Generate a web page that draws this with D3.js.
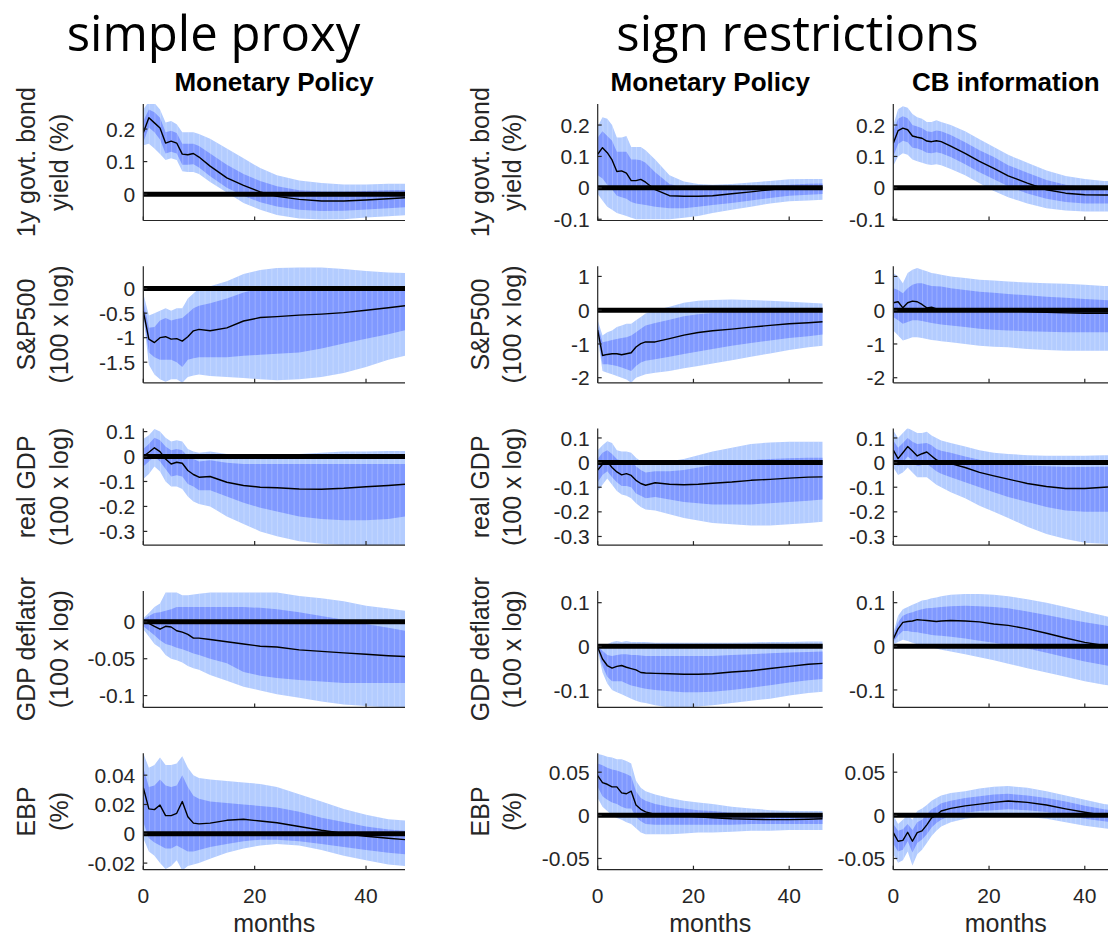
<!DOCTYPE html>
<html>
<head>
<meta charset="utf-8">
<script src="https://cdn.jsdelivr.net/npm/d3@7/dist/d3.min.js"></script>
<style>
  html, body { margin: 0; padding: 0; background: #ffffff; }
  svg { display: block; }
</style>
</head>
<body>
<svg id="chart" width="1108" height="940"></svg>
<script>
// ---------------- DATA ----------------
const months = [0,1,2,3,4,5,6,7,8,9,10,12,15,18,21,24,28,32,36,40,44,47];

const groupTitles = ["simple proxy", "sign restrictions"];
const shockTitles = ["Monetary Policy", "Monetary Policy", "CB information"];
const varLabels = [
  ["1y govt. bond", "yield (%)"],
  ["S&P500", "(100 x log)"],
  ["real GDP", "(100 x log)"],
  ["GDP deflator", "(100 x log)"],
  ["EBP", "(%)"]
];
const xTicks = [0, 20, 40];
const xLabel = "months";
const yTicksProxy = [[0, 0.1, 0.2], [-1.5, -1, -0.5, 0], [-0.3, -0.2, -0.1, 0, 0.1], [-0.1, -0.05, 0], [-0.02, 0, 0.02, 0.04]];
const yTicksSign  = [[-0.1, 0, 0.1, 0.2], [-2, -1, 0, 1], [-0.3, -0.2, -0.1, 0, 0.1], [-0.1, 0, 0.1], [-0.05, 0, 0.05]];
const yLimProxy = [[-0.081, 0.277], [-1.92, 0.455], [-0.355, 0.112], [-0.116, 0.042], [-0.0245, 0.055]];
const yLimSign  = [[-0.104, 0.267], [-2.15, 1.3], [-0.335, 0.138], [-0.14, 0.127], [-0.063, 0.072]];

// simple proxy, monetary policy
const spYieldMed  = [0.189,0.235,0.219,0.203,0.157,0.163,0.157,0.123,0.121,0.125,0.114,0.086,0.050,0.027,0.007,-0.007,-0.016,-0.021,-0.021,-0.018,-0.014,-0.011];
const spYieldHi90 = [0.26,0.285,0.28,0.26,0.22,0.225,0.215,0.19,0.19,0.19,0.185,0.17,0.14,0.11,0.08,0.058,0.042,0.034,0.03,0.03,0.032,0.032];
const spYieldLo90 = [0.15,0.155,0.14,0.123,0.105,0.11,0.105,0.07,0.068,0.068,0.062,0.037,0.005,-0.027,-0.048,-0.064,-0.075,-0.078,-0.077,-0.072,-0.068,-0.065];
const spYieldHi68 = [0.225,0.26,0.252,0.235,0.19,0.195,0.188,0.155,0.155,0.155,0.148,0.125,0.09,0.062,0.04,0.024,0.012,0.008,0.008,0.01,0.012,0.013];
const spYieldLo68 = [0.16,0.205,0.19,0.168,0.125,0.13,0.125,0.09,0.09,0.092,0.082,0.055,0.02,-0.005,-0.025,-0.038,-0.048,-0.052,-0.051,-0.047,-0.043,-0.04];

const spStockMed  = [-0.46,-1.03,-1.10,-1.00,-0.98,-1.03,-1.02,-1.07,-0.98,-0.86,-0.83,-0.86,-0.80,-0.66,-0.59,-0.57,-0.54,-0.52,-0.49,-0.44,-0.39,-0.35];
const spStockHi90 = [-0.1,-0.55,-0.5,-0.45,-0.4,-0.45,-0.4,-0.4,-0.2,-0.1,0.0,0.05,0.15,0.3,0.38,0.42,0.43,0.43,0.4,0.36,0.33,0.32];
const spStockLo90 = [-0.55,-1.55,-1.75,-1.85,-1.9,-1.85,-1.85,-1.92,-1.8,-1.77,-1.75,-1.78,-1.8,-1.82,-1.85,-1.87,-1.85,-1.8,-1.72,-1.6,-1.45,-1.37];
const spStockHi68 = [-0.25,-0.8,-0.78,-0.65,-0.6,-0.65,-0.62,-0.6,-0.5,-0.4,-0.35,-0.3,-0.2,-0.08,0.0,0.02,0.03,0.03,0.02,0.0,-0.03,-0.05];
const spStockLo68 = [-0.5,-1.3,-1.4,-1.45,-1.45,-1.45,-1.5,-1.6,-1.45,-1.42,-1.4,-1.4,-1.4,-1.37,-1.35,-1.33,-1.3,-1.22,-1.12,-1.02,-0.93,-0.85];

const spGdpMed  = [0.0,0.017,0.035,0.02,-0.01,-0.03,-0.023,-0.027,-0.056,-0.072,-0.083,-0.08,-0.103,-0.116,-0.123,-0.125,-0.13,-0.131,-0.127,-0.121,-0.116,-0.111];
const spGdpHi90 = [0.07,0.085,0.11,0.1,0.075,0.06,0.065,0.06,0.03,0.02,0.015,0.02,0.01,0.005,0.0,0.005,0.01,0.015,0.02,0.02,0.022,0.022];
const spGdpLo90 = [-0.09,-0.07,-0.04,-0.06,-0.1,-0.12,-0.12,-0.13,-0.16,-0.18,-0.19,-0.2,-0.24,-0.27,-0.3,-0.32,-0.34,-0.35,-0.355,-0.355,-0.355,-0.355];
const spGdpHi68 = [0.03,0.05,0.075,0.065,0.04,0.025,0.03,0.025,0.0,-0.01,-0.02,-0.015,-0.025,-0.03,-0.03,-0.03,-0.03,-0.03,-0.03,-0.03,-0.03,-0.03];
const spGdpLo68 = [-0.04,-0.02,0.0,-0.02,-0.05,-0.08,-0.075,-0.08,-0.11,-0.12,-0.135,-0.135,-0.16,-0.185,-0.205,-0.22,-0.24,-0.25,-0.255,-0.255,-0.25,-0.24];

const spDefMed  = [0,-0.002,-0.006,-0.01,-0.006,-0.007,-0.012,-0.014,-0.017,-0.022,-0.022,-0.024,-0.027,-0.03,-0.033,-0.034,-0.038,-0.04,-0.042,-0.044,-0.046,-0.047];
const spDefHi90 = [0.005,0.012,0.02,0.025,0.04,0.04,0.04,0.036,0.036,0.037,0.038,0.04,0.04,0.04,0.04,0.04,0.035,0.032,0.028,0.022,0.018,0.015];
const spDefLo90 = [-0.01,-0.02,-0.03,-0.035,-0.045,-0.05,-0.052,-0.055,-0.06,-0.063,-0.065,-0.072,-0.08,-0.088,-0.093,-0.098,-0.103,-0.108,-0.112,-0.114,-0.116,-0.116];
const spDefHi68 = [0.003,0.008,0.012,0.013,0.015,0.017,0.02,0.02,0.02,0.02,0.02,0.02,0.02,0.02,0.019,0.017,0.013,0.008,0.003,-0.003,-0.008,-0.012];
const spDefLo68 = [-0.006,-0.012,-0.018,-0.025,-0.03,-0.032,-0.035,-0.037,-0.04,-0.043,-0.045,-0.05,-0.056,-0.068,-0.073,-0.076,-0.079,-0.081,-0.083,-0.083,-0.083,-0.083];

const spEbpMed  = [0.0315,0.017,0.0165,0.0196,0.0124,0.0124,0.014,0.022,0.0116,0.0073,0.0068,0.0073,0.0092,0.0099,0.0087,0.0075,0.005,0.0024,0.0002,-0.0017,-0.003,-0.004];
const spEbpHi90 = [0.055,0.045,0.047,0.052,0.047,0.047,0.048,0.053,0.045,0.04,0.038,0.037,0.036,0.035,0.034,0.032,0.027,0.022,0.017,0.013,0.01,0.009];
const spEbpLo90 = [-0.003,-0.012,-0.015,-0.02,-0.024,-0.022,-0.018,-0.025,-0.022,-0.021,-0.02,-0.017,-0.013,-0.01,-0.008,-0.007,-0.008,-0.011,-0.015,-0.018,-0.021,-0.022];
const spEbpHi68 = [0.045,0.032,0.033,0.037,0.033,0.032,0.033,0.04,0.032,0.026,0.024,0.022,0.021,0.02,0.019,0.018,0.015,0.011,0.008,0.005,0.003,0.002];
const spEbpLo68 = [0.008,-0.003,-0.006,-0.008,-0.01,-0.01,-0.008,-0.01,-0.012,-0.012,-0.011,-0.009,-0.007,-0.005,-0.004,-0.004,-0.005,-0.007,-0.009,-0.011,-0.013,-0.014];

// sign restrictions, monetary policy
const srYieldMed  = [0.107,0.128,0.112,0.089,0.052,0.054,0.047,0.023,0.023,0.027,0.018,-0.006,-0.025,-0.027,-0.027,-0.025,-0.019,-0.013,-0.006,0.0,0.0,0.0];
const srYieldHi90 = [0.195,0.225,0.22,0.2,0.16,0.16,0.165,0.13,0.13,0.13,0.12,0.09,0.04,0.02,0.012,0.01,0.012,0.017,0.022,0.027,0.028,0.028];
const srYieldLo90 = [-0.02,-0.04,-0.06,-0.07,-0.08,-0.085,-0.09,-0.095,-0.1,-0.1,-0.1,-0.1,-0.1,-0.095,-0.09,-0.08,-0.07,-0.06,-0.05,-0.043,-0.04,-0.038];
const srYieldHi68 = [0.16,0.18,0.165,0.15,0.115,0.115,0.115,0.09,0.09,0.088,0.08,0.05,0.012,0.0,-0.005,-0.006,-0.003,0.0,0.006,0.01,0.013,0.014];
const srYieldLo68 = [0.04,0.03,0.01,-0.005,-0.025,-0.03,-0.035,-0.045,-0.05,-0.052,-0.055,-0.06,-0.065,-0.065,-0.06,-0.055,-0.048,-0.04,-0.032,-0.025,-0.022,-0.02];

const srStockMed  = [-0.59,-1.34,-1.31,-1.29,-1.29,-1.32,-1.29,-1.26,-1.09,-0.99,-0.94,-0.94,-0.84,-0.74,-0.66,-0.61,-0.56,-0.5,-0.45,-0.4,-0.37,-0.34];
const srStockHi90 = [-0.3,-0.75,-0.65,-0.6,-0.5,-0.45,-0.4,-0.4,-0.3,-0.2,-0.1,0.0,0.1,0.22,0.28,0.3,0.32,0.3,0.28,0.25,0.22,0.2];
const srStockLo90 = [-0.8,-1.8,-1.85,-1.9,-1.95,-2.0,-2.05,-2.15,-2.0,-1.95,-1.9,-1.85,-1.8,-1.72,-1.65,-1.58,-1.48,-1.38,-1.28,-1.18,-1.1,-1.05];
const srStockHi68 = [-0.45,-0.95,-0.92,-0.88,-0.85,-0.82,-0.8,-0.75,-0.65,-0.55,-0.45,-0.38,-0.28,-0.18,-0.12,-0.08,-0.05,-0.04,-0.03,-0.02,-0.02,-0.02];
const srStockLo68 = [-0.7,-1.6,-1.6,-1.62,-1.65,-1.7,-1.75,-1.8,-1.65,-1.55,-1.5,-1.45,-1.38,-1.3,-1.22,-1.15,-1.05,-0.97,-0.9,-0.82,-0.77,-0.72];

const srGdpMed  = [-0.03,-0.007,0.004,-0.02,-0.038,-0.05,-0.045,-0.052,-0.072,-0.085,-0.092,-0.082,-0.088,-0.09,-0.088,-0.084,-0.079,-0.072,-0.068,-0.063,-0.059,-0.058];
const srGdpHi90 = [0.05,0.07,0.087,0.08,0.05,0.045,0.045,0.04,0.02,0.005,-0.005,0.0,0.005,0.015,0.03,0.045,0.06,0.075,0.082,0.085,0.085,0.085];
const srGdpLo90 = [-0.115,-0.09,-0.065,-0.09,-0.115,-0.13,-0.135,-0.145,-0.165,-0.18,-0.19,-0.195,-0.21,-0.225,-0.235,-0.245,-0.25,-0.255,-0.255,-0.25,-0.245,-0.24];
const srGdpHi68 = [0.015,0.04,0.05,0.035,0.015,0.005,0.01,0.005,-0.015,-0.03,-0.04,-0.035,-0.035,-0.03,-0.02,-0.01,0.0,0.01,0.015,0.018,0.02,0.02];
const srGdpLo68 = [-0.08,-0.05,-0.035,-0.06,-0.08,-0.095,-0.095,-0.1,-0.125,-0.135,-0.145,-0.14,-0.15,-0.16,-0.165,-0.17,-0.17,-0.17,-0.165,-0.16,-0.155,-0.15];

const srDefMed  = [-0.002,-0.029,-0.044,-0.05,-0.046,-0.044,-0.048,-0.051,-0.054,-0.06,-0.061,-0.062,-0.063,-0.064,-0.064,-0.063,-0.059,-0.056,-0.051,-0.046,-0.041,-0.039];
const srDefHi90 = [0.0,0.0,0.005,0.01,0.012,0.01,0.012,0.01,0.01,0.01,0.01,0.008,0.008,0.008,0.008,0.008,0.008,0.009,0.01,0.01,0.011,0.011];
const srDefLo90 = [-0.01,-0.06,-0.085,-0.1,-0.105,-0.11,-0.115,-0.12,-0.125,-0.128,-0.13,-0.135,-0.14,-0.14,-0.138,-0.135,-0.13,-0.125,-0.12,-0.113,-0.107,-0.104];
const srDefHi68 = [-0.001,-0.01,-0.02,-0.022,-0.02,-0.018,-0.018,-0.02,-0.02,-0.021,-0.022,-0.022,-0.022,-0.022,-0.022,-0.022,-0.02,-0.018,-0.016,-0.014,-0.013,-0.012];
const srDefLo68 = [-0.005,-0.045,-0.07,-0.08,-0.08,-0.08,-0.085,-0.09,-0.092,-0.095,-0.097,-0.1,-0.103,-0.105,-0.105,-0.104,-0.1,-0.095,-0.089,-0.083,-0.078,-0.075];

const srEbpMed  = [0.046,0.038,0.036,0.033,0.033,0.026,0.025,0.028,0.012,0.007,0.004,0.001,0.0,-0.0005,-0.0017,-0.0028,-0.004,-0.0045,-0.005,-0.005,-0.0045,-0.004];
const srEbpHi90 = [0.071,0.07,0.068,0.067,0.065,0.065,0.063,0.06,0.04,0.032,0.028,0.024,0.02,0.017,0.015,0.013,0.01,0.008,0.006,0.005,0.005,0.005];
const srEbpLo90 = [0.02,0.01,0.005,0.0,-0.003,-0.005,-0.008,-0.01,-0.015,-0.02,-0.022,-0.022,-0.022,-0.021,-0.02,-0.02,-0.019,-0.018,-0.018,-0.017,-0.017,-0.017];
const srEbpHi68 = [0.06,0.058,0.055,0.053,0.052,0.05,0.048,0.045,0.028,0.02,0.017,0.013,0.01,0.008,0.006,0.005,0.003,0.002,0.001,0.0,0.0,0.0];
const srEbpLo68 = [0.033,0.022,0.018,0.015,0.013,0.01,0.008,0.008,-0.002,-0.007,-0.01,-0.011,-0.011,-0.011,-0.011,-0.011,-0.011,-0.01,-0.01,-0.01,-0.01,-0.01];

// sign restrictions, CB information
const cbYieldMed  = [0.142,0.182,0.19,0.185,0.165,0.161,0.158,0.149,0.147,0.15,0.147,0.133,0.11,0.084,0.062,0.038,0.015,-0.006,-0.017,-0.022,-0.023,-0.023];
const cbYieldHi90 = [0.2,0.25,0.26,0.255,0.235,0.225,0.22,0.21,0.21,0.215,0.21,0.2,0.18,0.155,0.13,0.105,0.08,0.055,0.038,0.028,0.022,0.02];
const cbYieldLo90 = [0.07,0.1,0.11,0.105,0.09,0.085,0.08,0.075,0.073,0.075,0.072,0.06,0.04,0.015,-0.01,-0.03,-0.05,-0.065,-0.072,-0.075,-0.075,-0.075];
const cbYieldHi68 = [0.18,0.22,0.228,0.222,0.2,0.195,0.19,0.18,0.178,0.183,0.18,0.168,0.145,0.12,0.098,0.072,0.048,0.025,0.01,0.003,0.0,-0.002];
const cbYieldLo68 = [0.1,0.14,0.15,0.145,0.128,0.125,0.12,0.112,0.11,0.113,0.11,0.098,0.075,0.05,0.027,0.005,-0.018,-0.035,-0.045,-0.05,-0.05,-0.05];

const cbStockMed  = [0.22,0.25,0.07,0.22,0.27,0.25,0.17,0.07,0.09,0.04,0.02,0.0,0.0,0.0,-0.01,-0.02,-0.04,-0.06,-0.08,-0.09,-0.09,-0.09];
const cbStockHi90 = [1.1,1.0,0.8,1.1,1.2,1.25,1.2,1.15,1.1,1.08,1.05,1.0,0.95,0.9,0.88,0.85,0.82,0.8,0.78,0.75,0.72,0.7];
const cbStockLo90 = [-0.6,-0.75,-0.9,-0.85,-0.8,-0.8,-0.82,-0.85,-0.88,-0.9,-0.92,-0.95,-1.0,-1.05,-1.08,-1.1,-1.15,-1.18,-1.2,-1.2,-1.2,-1.2];
const cbStockHi68 = [0.65,0.6,0.5,0.65,0.75,0.8,0.8,0.75,0.72,0.71,0.7,0.65,0.6,0.55,0.52,0.48,0.44,0.4,0.37,0.33,0.3,0.28];
const cbStockLo68 = [-0.2,-0.3,-0.4,-0.35,-0.3,-0.3,-0.32,-0.35,-0.38,-0.4,-0.42,-0.45,-0.5,-0.55,-0.58,-0.6,-0.62,-0.64,-0.65,-0.65,-0.65,-0.65];

const cbGdpMed  = [0.051,0.016,0.04,0.065,0.047,0.027,0.036,0.043,0.027,0.011,0.003,-0.004,-0.02,-0.04,-0.054,-0.067,-0.085,-0.097,-0.105,-0.105,-0.1,-0.097];
const cbGdpHi90 = [0.13,0.1,0.12,0.14,0.13,0.12,0.12,0.125,0.11,0.1,0.09,0.08,0.065,0.05,0.04,0.035,0.03,0.028,0.028,0.028,0.03,0.03];
const cbGdpLo90 = [-0.02,-0.05,-0.04,-0.02,-0.04,-0.06,-0.06,-0.06,-0.075,-0.09,-0.1,-0.12,-0.145,-0.175,-0.2,-0.225,-0.26,-0.29,-0.31,-0.325,-0.33,-0.335];
const cbGdpHi68 = [0.09,0.06,0.08,0.1,0.085,0.075,0.078,0.08,0.07,0.055,0.048,0.04,0.025,0.012,0.002,-0.005,-0.012,-0.015,-0.018,-0.018,-0.017,-0.016];
const cbGdpLo68 = [0.015,-0.015,0.0,0.025,0.01,-0.015,-0.01,-0.005,-0.02,-0.035,-0.045,-0.06,-0.08,-0.1,-0.12,-0.14,-0.16,-0.18,-0.195,-0.2,-0.2,-0.2];

const cbDefMed  = [0.017,0.04,0.055,0.057,0.058,0.061,0.06,0.059,0.058,0.057,0.058,0.059,0.058,0.056,0.051,0.048,0.04,0.03,0.019,0.009,0.002,0.0];
const cbDefHi90 = [0.03,0.07,0.085,0.09,0.095,0.1,0.105,0.107,0.11,0.112,0.115,0.118,0.12,0.12,0.118,0.115,0.108,0.1,0.09,0.08,0.07,0.063];
const cbDefLo90 = [0.005,0.01,0.015,0.012,0.008,0.005,0.003,0.0,-0.003,-0.005,-0.008,-0.012,-0.018,-0.025,-0.032,-0.04,-0.05,-0.06,-0.07,-0.08,-0.088,-0.093];
const cbDefHi68 = [0.025,0.055,0.07,0.075,0.078,0.082,0.085,0.087,0.088,0.089,0.09,0.092,0.093,0.092,0.09,0.087,0.08,0.072,0.063,0.055,0.048,0.043];
const cbDefLo68 = [0.01,0.025,0.035,0.035,0.033,0.032,0.03,0.028,0.026,0.025,0.024,0.022,0.018,0.013,0.008,0.003,-0.005,-0.015,-0.025,-0.035,-0.043,-0.048];

const cbEbpMed  = [-0.02,-0.03,-0.029,-0.0196,-0.03,-0.02,-0.018,-0.011,-0.003,0.0,0.005,0.008,0.011,0.013,0.015,0.0166,0.015,0.012,0.0075,0.0035,0.0,-0.002];
const cbEbpHi90 = [0.0,-0.01,-0.005,0.0,-0.005,0.005,0.008,0.012,0.017,0.02,0.023,0.026,0.028,0.031,0.033,0.034,0.032,0.028,0.023,0.018,0.013,0.011];
const cbEbpLo90 = [-0.045,-0.055,-0.052,-0.042,-0.058,-0.045,-0.04,-0.032,-0.024,-0.018,-0.013,-0.008,-0.004,-0.002,-0.001,-0.001,-0.002,-0.004,-0.008,-0.012,-0.015,-0.017];
const cbEbpHi68 = [-0.01,-0.018,-0.016,-0.01,-0.017,-0.008,-0.005,0.001,0.007,0.01,0.014,0.017,0.02,0.022,0.024,0.025,0.023,0.02,0.016,0.011,0.007,0.005];
const cbEbpLo68 = [-0.033,-0.042,-0.04,-0.03,-0.043,-0.032,-0.028,-0.022,-0.014,-0.009,-0.005,0.0,0.003,0.005,0.006,0.007,0.006,0.004,0.0,-0.004,-0.007,-0.009];

// ---------------- PANEL TABLE (built from the arrays above) ----------------
const series = [
  [ [spYieldMed, spYieldLo68, spYieldHi68, spYieldLo90, spYieldHi90],
    [srYieldMed, srYieldLo68, srYieldHi68, srYieldLo90, srYieldHi90],
    [cbYieldMed, cbYieldLo68, cbYieldHi68, cbYieldLo90, cbYieldHi90] ],
  [ [spStockMed, spStockLo68, spStockHi68, spStockLo90, spStockHi90],
    [srStockMed, srStockLo68, srStockHi68, srStockLo90, srStockHi90],
    [cbStockMed, cbStockLo68, cbStockHi68, cbStockLo90, cbStockHi90] ],
  [ [spGdpMed, spGdpLo68, spGdpHi68, spGdpLo90, spGdpHi90],
    [srGdpMed, srGdpLo68, srGdpHi68, srGdpLo90, srGdpHi90],
    [cbGdpMed, cbGdpLo68, cbGdpHi68, cbGdpLo90, cbGdpHi90] ],
  [ [spDefMed, spDefLo68, spDefHi68, spDefLo90, spDefHi90],
    [srDefMed, srDefLo68, srDefHi68, srDefLo90, srDefHi90],
    [cbDefMed, cbDefLo68, cbDefHi68, cbDefLo90, cbDefHi90] ],
  [ [spEbpMed, spEbpLo68, spEbpHi68, spEbpLo90, spEbpHi90],
    [srEbpMed, srEbpLo68, srEbpHi68, srEbpLo90, srEbpHi90],
    [cbEbpMed, cbEbpLo68, cbEbpHi68, cbEbpLo90, cbEbpHi90] ]
];

// ---------------- LAYOUT ----------------
const colX = [143.3, 597.7, 893.3];
const colW = [261.7, 225, 225];
const rowTop0 = 104, rowStep = 162.3, rowH = 116.5;
const lightBlue = "rgb(179,204,255)";
const darkBlue = "rgb(128,153,255)";
const axisColor = "#262626";
const tickFont = "21px 'Liberation Sans', Arial, sans-serif";

const svg = d3.select("#chart");
const defs = svg.append("defs");

// group titles: one common font size chosen so that both widths match the reference on average
const titleAttrs = [[213.5, 287], [797.5, 369]];
const gts = titleAttrs.map((a, i) => svg.append("text").attr("x", a[0]).attr("y", 51)
  .attr("text-anchor", "middle")
  .style("font-family", "'Open Sans', sans-serif").style("font-size", "46px").attr("fill", "#000")
  .text(groupTitles[i]));
const wSum = gts.reduce((s, t) => s + t.node().getComputedTextLength(), 0);
const fsTitle = 46 * (287 + 369) / wSum;
gts.forEach(t => t.style("font-size", fsTitle + "px"));

const nRows = varLabels.length;
for (let c = 0; c < 3; c++) {
  const x0 = colX[c], w = colW[c];
  const xs = d3.scaleLinear().domain([0, 47]).range([x0, x0 + w]);

  // column title
  svg.append("text").attr("x", x0 + w / 2).attr("y", 91).attr("text-anchor", "middle")
    .style("font-family", "'Liberation Sans', Arial, sans-serif").style("font-weight", "bold")
    .style("font-size", "26px").attr("fill", "#000").text(shockTitles[c]);

  for (let r = 0; r < nRows; r++) {
    const top = rowTop0 + r * rowStep, bot = top + rowH;
    const lim = c === 0 ? yLimProxy[r] : yLimSign[r];
    const ticks = c === 0 ? yTicksProxy[r] : yTicksSign[r];
    const ys = d3.scaleLinear().domain(lim).range([bot, top]);
    const [med, lo68, hi68, lo90, hi90] = series[r][c];
    const g = svg.append("g");

    const clipId = `clip-${r}-${c}`;
    defs.append("clipPath").attr("id", clipId).append("rect")
      .attr("x", x0).attr("y", top).attr("width", w).attr("height", rowH);
    const pg = g.append("g").attr("clip-path", `url(#${clipId})`);

    const idx = months.map((m, i) => i);
    const area90 = d3.area().x(i => xs(months[i])).y0(i => ys(lo90[i])).y1(i => ys(hi90[i]));
    const area68 = d3.area().x(i => xs(months[i])).y0(i => ys(lo68[i])).y1(i => ys(hi68[i]));

    pg.append("path").attr("d", area90(idx)).attr("fill", lightBlue);
    pg.append("path").attr("d", area68(idx)).attr("fill", darkBlue);

    // faint vertical stripes inside the outer band (patch seams)
    const bandClip = `band-${r}-${c}`;
    defs.append("clipPath").attr("id", bandClip).append("path").attr("d", area90(idx));
    const sg = pg.append("g").attr("clip-path", `url(#${bandClip})`);
    d3.range(0, 48).forEach(m => {
      sg.append("line").attr("x1", xs(m) + 0.5).attr("x2", xs(m) + 0.5)
        .attr("y1", top).attr("y2", bot)
        .attr("stroke", "#ffffff").attr("stroke-opacity", 0.22).attr("stroke-width", 1);
    });

    // median line
    const line = d3.line().x(i => xs(months[i])).y(i => ys(med[i]));
    pg.append("path").attr("d", line(idx)).attr("fill", "none")
      .attr("stroke", "#000").attr("stroke-width", 1.4).attr("stroke-linejoin", "round");

    // zero line (thick)
    g.append("line").attr("x1", xs(0)).attr("x2", xs(47)).attr("y1", ys(0)).attr("y2", ys(0))
      .attr("stroke", "#000").attr("stroke-width", 5);

    // axes
    g.append("line").attr("x1", x0).attr("x2", x0).attr("y1", top).attr("y2", bot)
      .attr("stroke", axisColor).attr("stroke-width", 1.2);
    g.append("line").attr("x1", x0).attr("x2", x0 + w).attr("y1", bot).attr("y2", bot)
      .attr("stroke", axisColor).attr("stroke-width", 1.2);

    ticks.forEach(t => {
      const y = ys(t);
      g.append("line").attr("x1", x0).attr("x2", x0 + 4).attr("y1", y).attr("y2", y)
        .attr("stroke", axisColor).attr("stroke-width", 1.2);
      g.append("text").attr("x", x0 - 8).attr("y", y).attr("dy", "0.36em")
        .attr("text-anchor", "end").style("font", tickFont).attr("fill", axisColor)
        .text(String(t));
    });
    xTicks.forEach(t => {
      const x = xs(t);
      g.append("line").attr("x1", x).attr("x2", x).attr("y1", bot).attr("y2", bot - 4)
        .attr("stroke", axisColor).attr("stroke-width", 1.2);
      if (r === nRows - 1) {
        g.append("text").attr("x", x).attr("y", 902.5).attr("text-anchor", "middle")
          .style("font", tickFont).attr("fill", axisColor).text(String(t));
      }
    });

    // y labels (columns 1 and 2 only)
    if (c < 2) {
      const cy = top + rowH / 2;
      const bx = c === 0 ? [35, 68] : [489, 521];
      varLabels[r].forEach((lab, k) => {
        svg.append("text").attr("transform", `translate(${bx[k]},${cy}) rotate(-90)`)
          .attr("text-anchor", "middle")
          .style("font-family", "'Liberation Sans', Arial, sans-serif").style("font-size", "25px")
          .attr("fill", axisColor).text(lab);
      });
    }
  }

  svg.append("text").attr("x", x0 + w / 2).attr("y", 932).attr("text-anchor", "middle")
    .style("font-family", "'Liberation Sans', Arial, sans-serif").style("font-size", "25px")
    .attr("fill", axisColor).text(xLabel);
}
</script>
</body>
</html>
